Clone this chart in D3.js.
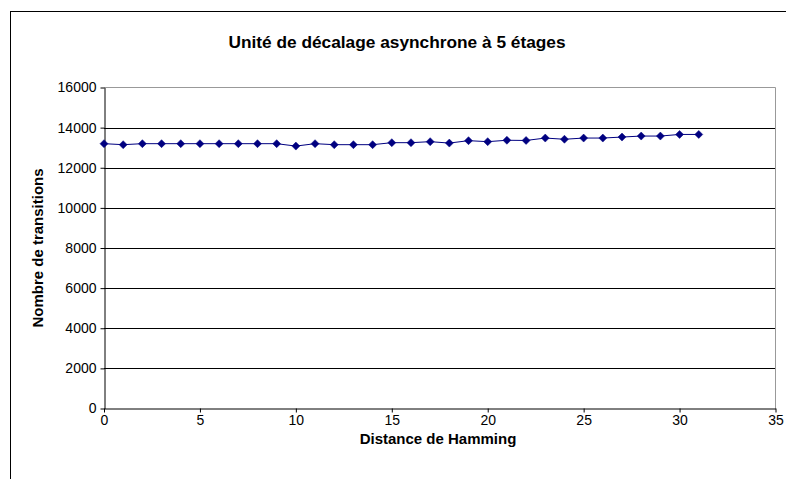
<!DOCTYPE html>
<html>
<head>
<meta charset="utf-8">
<script src="https://cdn.jsdelivr.net/npm/d3@7"></script>
<style>
  html, body { margin: 0; padding: 0; background: #fff; }
  svg { display: block; font-family: "Liberation Sans", Arial, sans-serif; }
</style>
</head>
<body>
<svg id="chart" width="786" height="479"></svg>
<script>
const title = "Unité de décalage asynchrone à 5 étages";
const xTitle = "Distance de Hamming";
const yTitle = "Nombre de transitions";
const distances = [0,1,2,3,4,5,6,7,8,9,10,11,12,13,14,15,16,17,18,19,20,21,22,23,24,25,26,27,28,29,30,31];
const transitions = [13200,13150,13200,13200,13200,13200,13200,13200,13200,13200,13080,13200,13150,13150,13150,13250,13250,13300,13230,13350,13300,13370,13360,13480,13420,13480,13480,13530,13580,13580,13660,13660];
const xTicks = [0,5,10,15,20,25,30,35];
const yTicks = [0,2000,4000,6000,8000,10000,12000,14000,16000];

const svg = d3.select("#chart");
const W = 786, H = 479;
const pL = 104, pR = 775.5, pT = 87.5, pB = 408.5;

// outer frame
svg.append("rect").attr("x", 10.5).attr("y", 11.5).attr("width", W).attr("height", H)
  .attr("fill", "none").attr("stroke", "#000").attr("stroke-width", 1);

const x = d3.scaleLinear().domain([0, 35]).range([pL, pR]);
const y = d3.scaleLinear().domain([0, 16000]).range([pB, pT]);

// gridlines
svg.append("g").selectAll("line").data(yTicks.filter(d => d > 0 && d < 16000)).join("line")
  .attr("x1", pL).attr("x2", pR)
  .attr("y1", d => Math.round(y(d)) + 0.5).attr("y2", d => Math.round(y(d)) + 0.5)
  .attr("stroke", "#000").attr("stroke-width", 1);

// plot border top & right (gray)
svg.append("path")
  .attr("d", `M${pL},${pT}H${pR}V${pB}`)
  .attr("fill", "none").attr("stroke", "#999").attr("stroke-width", 1);

// y axis
const yAxis = svg.append("g").attr("transform", `translate(${pL + 0.5},0)`)
  .call(d3.axisLeft(y).tickValues(yTicks).tickSize(4).tickSizeOuter(0).tickFormat(d3.format("d")));
yAxis.attr("font-size", 14).attr("font-family", "Liberation Sans, Arial, sans-serif");
yAxis.select(".domain").attr("stroke", "#000");
yAxis.selectAll(".tick line").attr("stroke", "#000");
yAxis.selectAll("text").attr("fill", "#000").attr("x", -8);

// x axis
const xAxis = svg.append("g").attr("transform", `translate(0,${pB})`)
  .call(d3.axisBottom(x).tickValues(xTicks).tickSize(4).tickSizeOuter(0));
xAxis.attr("font-size", 14).attr("font-family", "Liberation Sans, Arial, sans-serif");
xAxis.select(".domain").attr("stroke", "#000");
xAxis.selectAll(".tick line").attr("stroke", "#000");
xAxis.selectAll("text").attr("fill", "#000").attr("y", 7);

// line
const pts = distances.map((d, i) => [d, transitions[i]]);
svg.append("path").datum(pts)
  .attr("d", d3.line().x(d => x(d[0])).y(d => y(d[1])))
  .attr("fill", "none").attr("stroke", "#000080").attr("stroke-width", 1);

// markers
svg.append("g").selectAll("path").data(pts).join("path")
  .attr("transform", d => `translate(${x(d[0])},${y(d[1])})`)
  .attr("d", "M0,-4L4,0L0,4L-4,0Z")
  .attr("fill", "#000080").attr("stroke", "#000080").attr("stroke-width", 0.5);

// titles
svg.append("text").attr("x", 397).attr("y", 48).attr("text-anchor", "middle")
  .attr("font-size", 17.3).attr("font-weight", "bold").text(title);
svg.append("text").attr("x", 438).attr("y", 444).attr("text-anchor", "middle")
  .attr("font-size", 15).attr("font-weight", "bold").text(xTitle);
svg.append("text").attr("transform", "translate(43,248) rotate(-90)").attr("text-anchor", "middle")
  .attr("font-size", 15).attr("font-weight", "bold").text(yTitle);
</script>
</body>
</html>
